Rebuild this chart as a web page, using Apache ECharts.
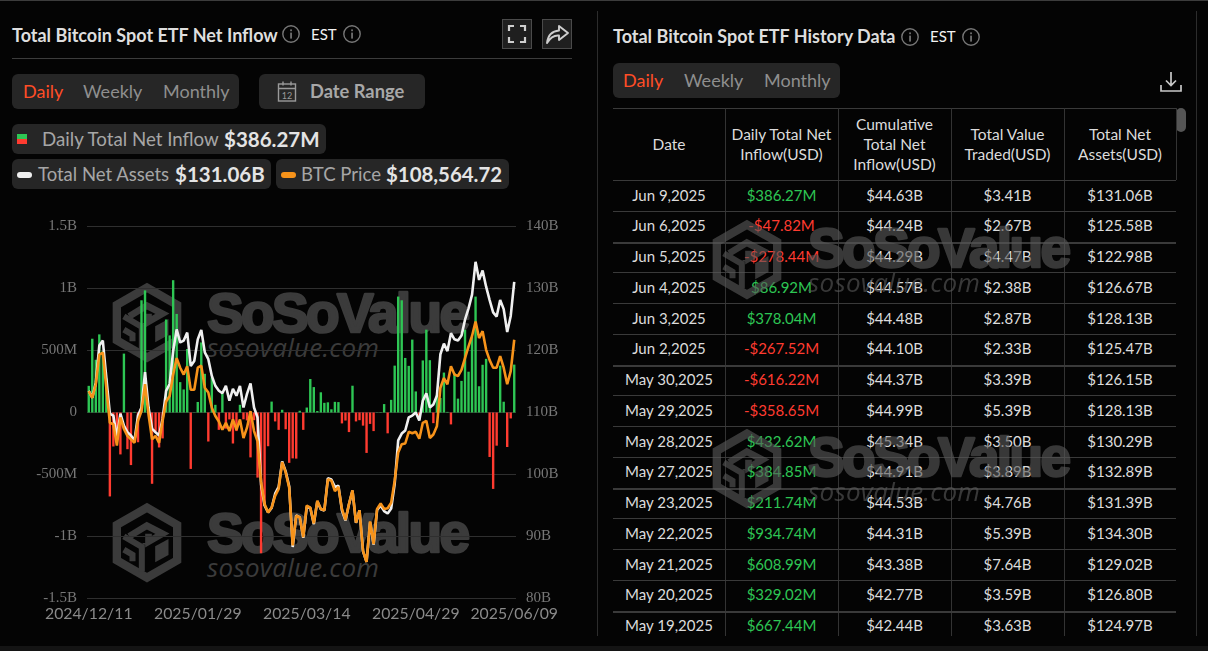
<!DOCTYPE html>
<html><head><meta charset="utf-8">
<style>
html,body{margin:0;padding:0;background:#040404;width:1208px;height:651px;overflow:hidden;font-family:Lato,sans-serif}
#root{position:absolute;left:0;top:0;width:1208px;height:651px;overflow:hidden}
.a{position:absolute;white-space:nowrap}
.box{position:absolute;background:#262626;border-radius:6px}
.line{position:absolute;background:#333}
.cell{position:absolute;text-align:center;white-space:nowrap;font-size:15px;color:#dcdcdc}
#chart{position:absolute;left:0;top:0;width:1208px;height:651px}
svg{position:absolute;overflow:visible}
</style>
<script src="https://cdn.jsdelivr.net/npm/echarts@6/dist/echarts.min.js"></script>
</head><body><div id="root"><div id="chart"></div></div>
<script>
// ---------- chart data ----------
const dates = ["2024/12/11","2024/12/12","2024/12/13","2024/12/16","2024/12/17","2024/12/18","2024/12/19","2024/12/20","2024/12/23","2024/12/24","2024/12/26","2024/12/27","2024/12/30","2024/12/31",
"2025/01/02","2025/01/03","2025/01/06","2025/01/07","2025/01/08","2025/01/10","2025/01/13","2025/01/14","2025/01/15","2025/01/16","2025/01/17","2025/01/21","2025/01/22","2025/01/23","2025/01/24","2025/01/27","2025/01/28","2025/01/29","2025/01/30","2025/01/31",
"2025/02/03","2025/02/04","2025/02/05","2025/02/06","2025/02/07","2025/02/10","2025/02/11","2025/02/12","2025/02/13","2025/02/14","2025/02/18","2025/02/19","2025/02/20","2025/02/21","2025/02/24","2025/02/25","2025/02/26","2025/02/27","2025/02/28",
"2025/03/03","2025/03/04","2025/03/05","2025/03/06","2025/03/07","2025/03/10","2025/03/11","2025/03/12","2025/03/13","2025/03/14","2025/03/17","2025/03/18","2025/03/19","2025/03/20","2025/03/21","2025/03/24","2025/03/25","2025/03/26","2025/03/27","2025/03/28","2025/03/31",
"2025/04/01","2025/04/02","2025/04/03","2025/04/04","2025/04/07","2025/04/08","2025/04/09","2025/04/10","2025/04/11","2025/04/14","2025/04/15","2025/04/16","2025/04/17","2025/04/21","2025/04/22","2025/04/23","2025/04/24","2025/04/25","2025/04/28","2025/04/29","2025/04/30",
"2025/05/01","2025/05/02","2025/05/05","2025/05/06","2025/05/07","2025/05/08","2025/05/09","2025/05/12","2025/05/13","2025/05/14","2025/05/15","2025/05/16","2025/05/19","2025/05/20","2025/05/21","2025/05/22","2025/05/23","2025/05/27","2025/05/28","2025/05/29","2025/05/30",
"2025/06/02","2025/06/03","2025/06/04","2025/06/05","2025/06/06","2025/06/09"];
const xTickDates = ["2024/12/11","2025/01/29","2025/03/14","2025/04/29","2025/06/09"];
const inflowM = [215,595,425,630,495,275,-677,-274,-226,-338,475,-296,-424,5,
-240,905,985,50,-575,-149,-282,-209,750,622,1067,795,245,186,512,-455,2,85,565,312,
-234,285,62,-140,150,-130,-56,-250,-150,62,-55,-64,-362,-62,-525,-1135,-750,-272,88,
-72,-140,22,-135,-406,-370,-372,14,-140,40,270,205,12,163,78,82,26,86,84,-88,-65,
-158,216,-72,-62,-106,-326,-92,-150,2,3,68,-168,102,378,935,905,440,376,588,170,-56,
420,668,422,-86,142,117,322,5,-96,319,112,255,667.44,329.02,608.99,934.74,211.74,384.85,432.62,-358.65,-616.22,
-267.52,378.04,86.92,-278.44,-47.82,386.27];
const assetsB = [113.5,112.4,114.8,120.8,121.6,115.6,109.8,109.5,106,109.8,107.9,106.8,106.3,105.5,
109.5,110.8,116.5,110.8,107.4,106.8,106.3,109,113.5,114.6,119.9,123.4,121.3,121.6,122.9,117.5,118.3,121.8,123.3,119.7,
118.6,115.9,114.3,113.5,113.1,114.3,111.9,113.8,112.7,114.3,110.8,113,114.7,110.8,109.2,98.4,95,93.9,94.6,
96.9,98,102.1,100.5,98.1,88.3,93.4,93.1,89.8,94.8,94.6,92,95.7,94.4,94.2,99.4,99.2,98,98.2,94.2,92.6,
95.2,97.4,92.2,94.2,87.6,85.9,92.3,88.7,94.3,95,94.1,93.7,94.5,98.5,105.5,106.6,107.1,109.2,109.5,110,108.7,
111.9,113.1,110.8,111.3,112.7,119.4,121.1,119.9,122.8,121.8,121.6,122.4,124.97,126.8,129.02,134.3,131.39,132.89,130.29,128.13,126.15,
125.47,128.13,126.67,122.98,125.58,131.06];
const btcK = [101.1,100.1,102.1,106.4,106.7,101.5,96.5,96.3,93.2,97.3,95.6,94.6,94.1,93.6,
96.8,98.2,102.1,97.7,94.1,94.6,93.6,96.8,99.6,100.4,103.5,105.9,104.5,103.5,104.7,101.3,101.3,104.5,104.8,101.6,
100.9,98.7,97.5,96.7,95.5,96.5,95.3,97,95.5,97,94.3,95.8,98.2,95.3,93.8,88,84.7,83.5,84.2,
85.9,86.9,90.8,89.3,87.1,78.7,83,82.8,79.9,84.5,84.2,81.9,85.2,84,83.8,88.3,88.1,86.6,87.2,84,82.4,
84.7,86.7,82,83.8,77.9,76.3,82.2,78.9,84,84.8,84,84.1,84.9,88.1,92.2,93.4,93.5,95.2,95,95.2,94.2,
96.5,96.8,94.3,94.8,96,101.6,103,102.1,104.7,103.5,103.3,104.2,105.9,107.6,109.1,111.2,108.8,109.8,107.1,105.6,104.5,
104.5,106.2,104.5,102.1,104,108.56];
const leftTicks = {"1500":"1.5B","1000":"1B","500":"500M","0":"0","-500":"-500M","-1000":"-1B","-1500":"-1.5B"};

// ---------- table data ----------
const tableHead = [["Date"],["Daily Total Net","Inflow(USD)"],["Cumulative","Total Net","Inflow(USD)"],["Total Value","Traded(USD)"],["Total Net","Assets(USD)"]];
const tableDate = ["Jun 9,2025","Jun 6,2025","Jun 5,2025","Jun 4,2025","Jun 3,2025","Jun 2,2025","May 30,2025","May 29,2025","May 28,2025","May 27,2025","May 23,2025","May 22,2025","May 21,2025","May 20,2025","May 19,2025"];
const tableInflow = ["$386.27M","-$47.82M","-$278.44M","$86.92M","$378.04M","-$267.52M","-$616.22M","-$358.65M","$432.62M","$384.85M","$211.74M","$934.74M","$608.99M","$329.02M","$667.44M"];
const tableCum = ["$44.63B","$44.24B","$44.29B","$44.57B","$44.48B","$44.10B","$44.37B","$44.99B","$45.34B","$44.91B","$44.53B","$44.31B","$43.38B","$42.77B","$42.44B"];
const tableTraded = ["$3.41B","$2.67B","$4.47B","$2.38B","$2.87B","$2.33B","$3.39B","$5.39B","$3.50B","$3.89B","$4.76B","$5.39B","$7.64B","$3.59B","$3.63B"];
const tableAssets = ["$131.06B","$125.58B","$122.98B","$126.67B","$128.13B","$125.47B","$126.15B","$128.13B","$130.29B","$132.89B","$131.39B","$134.30B","$129.02B","$126.80B","$124.97B"];

const GREEN="#2ec654", RED="#ff3b30", ORANGE="#f7931a";
const root=document.getElementById('root');
function el(cls,css,html){const d=document.createElement('div');d.className=cls;d.style.cssText=css;if(html!==undefined)d.innerHTML=html;root.appendChild(d);return d;}
function T(x,y,s,size,color,weight){return el('a',`left:${x}px;top:${y-15}px;line-height:30px;font-size:${size}px;color:${color};font-weight:${weight||400}`,s);}
function box(x,y,w,h,bg,r,extra){return el('box',`left:${x}px;top:${y}px;width:${w}px;height:${h}px;background:${bg||'#262626'};border-radius:${r===undefined?6:r}px;${extra||''}`);}
function line(x,y,w,h,c){return el('line',`left:${x}px;top:${y}px;width:${w}px;height:${h}px;background:${c||'#333'}`);}
function svgAt(x,y,w,h,inner,z){const d=el('a',`left:${x}px;top:${y}px;width:${w}px;height:${h}px;${z?'z-index:'+z+';pointer-events:none;':''}`);d.innerHTML=`<svg width="${w}" height="${h}" viewBox="0 0 ${w} ${h}" style="left:0;top:0">${inner}</svg>`;return d;}

function watermark(hexX,hexTop,textX,base,color,op,z){
 const hex=`<g transform="translate(${hexX},${hexTop}) scale(0.3333)" fill="none" stroke="${color}" stroke-width="25">
 <path d="M103.5 14 L194 66 L194 172 L103.5 224 L13 172 L13 66 Z"/>
 <path d="M50 100 L103 68 L150 92 L108 116 L108 92 M100 120 L100 125" stroke-width="20"/>
 <path d="M34 100 L88 132 L88 205 M34 140 L60 155 L60 175" stroke-width="18"/>
 <path d="M128 130 L168 108 L168 156 L128 178 Z" fill="${color}" stroke="none"/></g>`;
 const tx=`<text x="${textX}" y="${base}" font-family="Liberation Sans" font-weight="700" font-size="55" fill="${color}" stroke="${color}" stroke-width="2.6" stroke-linejoin="round" textLength="263" lengthAdjust="spacing">SoSoValue</text>
 <text x="${textX}" y="${base+25}" font-family="Open Sans" font-style="italic" font-size="26" fill="${color}" textLength="172" lengthAdjust="spacing">sosovalue.com</text>`;
 const d=el('a',`left:0;top:0;width:1208px;height:651px;pointer-events:none;opacity:${op};z-index:${z}`);
 d.innerHTML=`<svg width="1208" height="651" style="left:0;top:0">${hex}${tx}</svg>`;
}
function info(cx,cy,c){svgAt(cx-10,cy-10,20,20,`<circle cx="10" cy="10" r="8.2" fill="none" stroke="${c||'#777'}" stroke-width="1.4"/><rect x="9.2" y="8.6" width="1.7" height="6" fill="${c||'#777'}"/><rect x="9.2" y="5.4" width="1.7" height="1.8" fill="${c||'#777'}"/>`);}

// frame
line(0,0,1208,1,'#3c3c3c');
line(597,11,1,625,'#2c2c2c');
line(1196,11,1,625,'#2c2c2c');
box(0,646,1208,5,'#141414',0);
// watermarks behind chart
watermark(112.5,283,207,332,'#3b3b3b',1,0);
watermark(112.5,503,207,552,'#3b3b3b',1,0);
document.getElementById('chart').style.zIndex=1;

// left header
T(12,35,'Total Bitcoin Spot ETF Net Inflow',18,'#dedede',700);
info(291,34);
T(311,34,'EST',15,'#f2f2f2',400);
info(352,34);
line(12,58,560,1,'#3c3c3c');
box(502,19,30,30,'#1f1f1f',0,'border:1px solid #4a4a4a;box-sizing:border-box');
svgAt(502,19,30,30,`<path d="M7 12V7h5M18 7h5v5M23 18v5h-5M12 23H7v-5" fill="none" stroke="#cfcfcf" stroke-width="2.2"/>`);
box(542,19,30,30,'#1f1f1f',0,'border:1px solid #4a4a4a;box-sizing:border-box');
svgAt(542,19,30,30,`<path d="M17 7 L26 14 L17 21 V16.5 C12 16 8 19 5 24 C6 16 10 12 17 11.5 Z" fill="none" stroke="#cfcfcf" stroke-width="1.9" stroke-linejoin="round"/>`);
// left tabs
box(12,74,227,35);
T(23,91,'Daily',18,'#ff4d26');T(83,91,'Weekly',18,'#8f8f8f');T(163,91,'Monthly',18,'#8f8f8f');
box(259,74,166,35);
svgAt(276,80,22,24,`<rect x="2.5" y="4" width="17" height="17" fill="none" stroke="#9a9a9a" stroke-width="1.4"/><path d="M2.5 8.5h17M7 1.5v4M15 1.5v4" stroke="#9a9a9a" stroke-width="1.4"/><text x="11" y="18.5" font-family="Lato" font-size="9" fill="#9a9a9a" text-anchor="middle">12</text>`);
T(310,91,'Date Range',18.3,'#a8a8a8',700);
// legend
box(12,124,314,30);
box(17,134,10,5,GREEN,0);box(17,139,10,5,RED,0);
T(42,139,'Daily Total Net Inflow',18.7,'#a6a6a6');T(224,139,'$386.27M',20.5,'#e4e4e4',700);
box(12,159,259,30);
box(17,172,15,6,'#f0f0f0',3);
T(38,174,'Total Net Assets',18.5,'#a6a6a6');T(175,174,'$131.06B',20.5,'#e4e4e4',700);
box(276,159,233,30);
box(281,172,15,6,ORANGE,3);
T(301,174,'BTC Price',18.6,'#a6a6a6');T(386,174,'$108,564.72',20.4,'#e4e4e4',700);

// right header
T(613,36,'Total Bitcoin Spot ETF History Data',18,'#dedede',700);
info(910,37);
T(930,36,'EST',15,'#f2f2f2');
info(971,37);
box(613,63,227,35);
T(623,80,'Daily',18,'#ff4d26');T(684,80,'Weekly',18,'#8f8f8f');T(764,80,'Monthly',18,'#8f8f8f');
svgAt(1159,69,24,24,`<path d="M12 3v13M7 11.5l5 5 5-5M2 16v6h20v-6" fill="none" stroke="#c8c8c8" stroke-width="1.7"/>`);
box(1176,108,10,24,'#555',5);

// table
const colX=[613,725,838,951,1064,1176];
line(613,108,563,1,'#3a3a3a');
for(let c=1;c<5;c++) line(colX[c],108,1,528,'#333');
line(1176,108,1,72,'#333');
line(613,180,563,1,'#3a3a3a');
tableHead.forEach((lines,c)=>{
  const h=lines.length*20, top=143.5-h/2;
  lines.forEach((s,k)=>el('cell',`left:${colX[c]}px;width:${colX[c+1]-colX[c]}px;top:${top+k*20}px;line-height:20px;font-size:15.5px`,s));
});
const RH=30.75;
tableDate.forEach((d,i)=>{
  const top=180+i*RH-0.5;
  const cols=[d,tableInflow[i],tableCum[i],tableTraded[i],tableAssets[i]];
  cols.forEach((s,c)=>{
    const color = c===1 ? (s[0]==='-'?RED:GREEN) : '#dcdcdc';
    el('cell',`left:${colX[c]}px;width:${colX[c+1]-colX[c]}px;top:${top}px;line-height:${RH}px;color:${color}`,s);
  });
  if(i<14) line(613,Math.round(top+0.5+RH),563,(i%4===1)?2:1,'#3a3a3a');
});
watermark(712.5,220,808,267,'#5a5a5a',0.62,3);
watermark(712.5,429,808,476,'#5a5a5a',0.62,3);

// chart
const chart=echarts.init(document.getElementById('chart'),null,{renderer:'canvas',width:1208,height:651});
chart.setOption({
  animation:false,
  backgroundColor:'transparent',
  grid:{left:87,top:226.5,width:429,height:372,containLabel:false},
  xAxis:{type:'category',data:dates,boundaryGap:true,
    axisLine:{show:false,onZero:false},axisTick:{show:false},splitLine:{show:false},
    axisLabel:{interval:(i,v)=>xTickDates.includes(v),color:'#8a8a8a',fontFamily:'Lato',fontSize:15.8,margin:7,hideOverlap:false}},
  yAxis:[
   {type:'value',min:-1500,max:1500,interval:500,position:'left',
    axisLine:{show:false},axisTick:{show:false},
    splitLine:{show:true,lineStyle:{color:'#2f2f2f',width:1}},
    axisLabel:{formatter:v=>leftTicks[String(v)],color:'#777',fontFamily:'Liberation Serif',fontSize:15,margin:10}},
   {type:'value',min:80,max:140,interval:10,position:'right',
    axisLine:{show:false},axisTick:{show:false},splitLine:{show:false},
    axisLabel:{formatter:v=>v+'B',color:'#777',fontFamily:'Liberation Serif',fontSize:15,margin:10}},
   {type:'value',min:71,max:125,position:'right',show:false,splitLine:{show:false}}
  ],
  series:[
   {name:'Daily Total Net Inflow',type:'bar',data:inflowM,yAxisIndex:0,barWidth:2.4,
    itemStyle:{color:p=>p.value>=0?GREEN:RED}},
   {name:'Total Net Assets',type:'line',data:assetsB,yAxisIndex:1,showSymbol:false,
    lineStyle:{color:'#f0f0f0',width:2.6}},
   {name:'BTC Price',type:'line',data:btcK,yAxisIndex:2,showSymbol:false,
    lineStyle:{color:ORANGE,width:2.6}}
  ]
});
</script></body></html>
